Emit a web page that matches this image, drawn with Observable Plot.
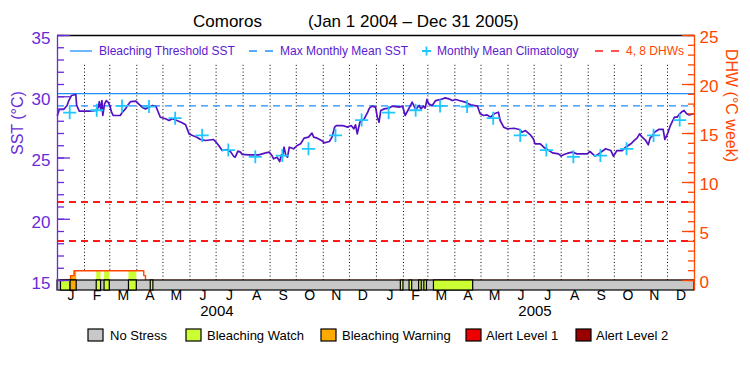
<!DOCTYPE html>
<html><head><meta charset="utf-8">
<script src="https://cdn.jsdelivr.net/npm/d3@7"></script>
<script src="https://cdn.jsdelivr.net/npm/@observablehq/plot@0.6"></script>
<style>
body{margin:0;background:#fff;}
#wrap{position:relative;width:750px;height:375px;overflow:hidden;background:#fff;}
#wrap svg{position:absolute;left:0;top:0;}
</style></head><body><div id="wrap"></div>
<script>
// ---------- data ----------
const titleText = "Comoros";
const periodText = "(Jan 1 2004 \u2013 Dec 31 2005)";
const monthLetters = ["J","F","M","A","M","J","J","A","S","O","N","D"];
const yearLabels = ["2004","2005"];
const sstTicks = [15,20,25,30,35];
const dhwTicks = [0,5,10,15,20,25];
const mmm = 29.25;
const bleachingThreshold = 30.25;
const dhwLevels = [4, 8];
// monthly mean climatology (Jan..Dec)
const climValues = [28.7, 28.9, 29.25, 29.2, 28.25, 26.85, 25.65, 25.1, 25.2, 25.75, 26.85, 28.1];
// SST: days since 2004-01-01 and values (deg C)
const sstDay = [0,2,7,11,13,16,21,22,25,38,44,47,48,50,51,52,54,56,58,60,62,64,72,74,78,81,84,90,93,97,101,105,109,113,118,124,128,132,137,143,147,151,155,160,164,170,179,182,185,189,195,199,202,204,207,210,212,220,231,239,243,246,248,252,255,257,258,260,262,264,266,271,275,279,283,288,292,294,298,303,306,312,315,318,320,327,333,337,340,342,344,347,352,356,358,361,365,367,369,371,375,380,384,392,396,399,403,407,411,415,417,420,422,424,426,430,434,440,445,449,453,457,461,468,474,482,485,489,493,497,501,506,508,512,516,524,530,533,537,543,546,548,554,558,564,568,575,578,581,587,591,596,608,611,614,617,621,629,635,638,642,648,652,658,662,665,668,671,675,678,680,683,685,690,695,697,700,703,708,711,714,717,719,722,725,730];
const sstValue = [28.5,28.96,28.96,29.29,29.69,30.1,30.18,29.29,28.82,28.82,28.88,29.15,29.61,28.88,29.69,28.47,29.42,29.69,29.56,29.29,28.74,28.47,28.47,28.69,29.01,29.34,29.61,29.64,29.42,29.15,29.01,29.15,29.29,29.2,28.33,28.2,28.06,28.2,28.06,27.87,27.71,26.97,26.84,26.7,26.51,26.43,26.51,26.29,26.02,25.61,25.69,25.48,25.15,25.07,25.56,25.48,25.29,25.26,25.26,25.42,25.48,25.21,24.93,25.07,24.71,25.26,25.07,25.88,25.21,25.07,25.88,25.75,26.02,26.16,26.62,26.7,27.03,26.7,26.62,26.43,26.24,26.35,26.7,27.52,27.65,27.65,27.52,27.65,27.38,27.71,26.97,27.92,28.2,28.74,29.07,29.23,29.15,28.33,27.92,28.88,29.01,29.07,29.23,29.15,29.23,28.47,29.01,29.56,28.96,29.29,29.01,29.23,29.07,29.78,29.42,29.29,29.69,29.78,29.91,29.83,29.69,29.78,29.69,29.56,29.34,29.23,28.61,28.47,28.52,28.33,28.61,28.74,28.06,27.52,27.38,27.43,27.33,27.11,27.24,26.86,26.57,26.16,26.16,25.88,25.61,25.42,25.34,25.15,25.29,25.42,25.48,25.34,25.34,25.53,25.34,25.15,25.34,25.75,25.61,25.15,25.61,25.61,25.88,26.16,26.43,26.62,26.97,26.7,26.43,26.07,26.62,26.84,27.11,27.33,27.33,26.51,26.97,27.6,28.33,28.33,28.61,28.8,28.88,28.61,28.52,28.61];
// Degree heating weeks (step values)
const dhwDate = ["2004-01-01","2004-01-16","2004-01-20","2004-04-09","2004-04-11","2006-01-01"];
const dhwValue = [0, 0.5, 1.0, 0.5, 0, 0];
// stress level periods (0 = no stress elsewhere)
const stressStart = ["2004-01-05","2004-01-16","2004-02-15","2004-02-24","2004-03-23","2004-04-17","2005-01-29","2005-02-08","2005-02-19","2005-02-25","2005-03-08"];
const stressEnd   = ["2004-01-16","2004-01-23","2004-02-20","2004-03-01","2004-04-01","2004-04-20","2005-02-01","2005-02-11","2005-02-22","2005-02-28","2005-04-22"];
const stressLevel = [1,2,1,1,1,1,1,1,1,1,1];
const stressNames = ["No Stress","Bleaching Watch","Bleaching Warning","Alert Level 1","Alert Level 2"];
const stressColors = ["#c8c8c8","#ccff33","#ffaa00","#ee0000","#990000"];

// ---------- styles ----------
const FONT = "'Liberation Sans', Arial, sans-serif";
const axisPurple = "#6a2ad8", linePurple = "#5312c2", legendPurple = "#5a1ad0";
const blue = "#1e90ff", cyan = "#1ec8ff", red = "#ff1a1a", orange = "#ff4500";

// ---------- derived tables ----------
const t0 = new Date("2004-01-01"), t1 = new Date("2006-01-01");
const base = Date.UTC(2004,0,1);
const sst = sstDay.map((d,i) => ({date: new Date(base + d*864e5), v: sstValue[i]}));
const clim = [2004,2005].flatMap(y => climValues.map((v,m) => ({date: new Date(Date.UTC(y,m,15)), v})));
const dhwToSst = d => 15 + d * 0.8; // right axis: 0..25 DHW mapped to 15..35
const dhw = dhwDate.map((d,i) => ({date: new Date(d), v: dhwValue[i]}));
const dhwSteps = dhw.slice(0,-1).map((d,i) => ({x1: d.date, x2: dhw[i+1].date, v: d.v}));
const stress = stressStart.map((s,i) => ({x1: new Date(s), x2: new Date(stressEnd[i]), level: stressLevel[i]}));
const fills = [];
stress.forEach(s => dhwSteps.forEach(d => {
  const a = Math.max(+s.x1, +d.x1), b = Math.min(+s.x2, +d.x2);
  if (a < b && d.v > 0) fills.push({x1: new Date(a), x2: new Date(b), v: d.v, level: s.level});
}));
const monthBounds = d3.utcMonth.range(new Date("2004-02-01"), t1);
const monthStarts = d3.utcMonth.range(t0, t1);
const monthMids = monthStarts.map((d,i) => ({date: new Date((+d + +d3.utcMonth.offset(d,1))/2), label: monthLetters[i % 12]}));
const yearMids = yearLabels.map(y => ({date: new Date(Date.UTC(+y,6,2)), label: y}));
const barBottom = 15 - 10/12.25;

const chart = Plot.plot({
  width: 750, height: 375,
  marginTop: 35, marginBottom: 85, marginLeft: 57, marginRight: 56,
  x: {type: "utc", domain: [t0, t1], axis: null},
  y: {domain: [barBottom, 35], axis: null},
  style: {fontFamily: FONT, background: "transparent"},
  marks: [
    Plot.ruleX(monthBounds, {x: d => d, y1: 15, y2: 32.75, stroke: "black", strokeDasharray: "1,2.4", strokeWidth: 1}),
    Plot.ruleY(dhwLevels, {y: d => dhwToSst(d), stroke: red, strokeDasharray: "7,5", strokeWidth: 2, shapeRendering: "crispEdges"}),
    Plot.areaY(dhw, {x: "date", y1: 15, y2: d => dhwToSst(d.v), curve: "step-after", fill: "white"}),
    Plot.rect(fills, {x1: "x1", x2: "x2", y1: 15, y2: d => dhwToSst(d.v), fill: d => stressColors[d.level]}),
    Plot.line(dhw, {x: "date", y: d => dhwToSst(d.v), curve: "step-after", stroke: orange, strokeWidth: 1.4}),
    Plot.ruleY([bleachingThreshold], {stroke: blue, strokeWidth: 1.3}),
    Plot.ruleY([mmm], {stroke: blue, strokeWidth: 1.3, strokeDasharray: "7,5"}),
    Plot.line(sst, {x: "date", y: "v", stroke: linePurple, strokeWidth: 1.7}),
    Plot.dot(clim, {x: "date", y: "v", symbol: "plus", r: 4.3, stroke: cyan, strokeWidth: 1.8}),
    Plot.rect([{x1: t0, x2: t1}], {x1: "x1", x2: "x2", y1: barBottom, y2: 15, fill: stressColors[0], stroke: "black", strokeWidth: 1.2}),
    Plot.rect(stress, {x1: "x1", x2: "x2", y1: barBottom, y2: 15, fill: d => stressColors[d.level], stroke: "black", strokeWidth: 1.2}),
    Plot.ruleY([35], {stroke: "black", strokeWidth: 1.3}),
    Plot.ruleX([t0], {stroke: axisPurple, strokeWidth: 1.3}),
    Plot.ruleX([t1], {stroke: orange, strokeWidth: 1.3}),
    Plot.axisY({anchor: "left", ticks: d3.range(15, 35.01, 1), tickSize: -7, fill: "none", stroke: axisPurple, strokeWidth: 1.3, label: null}),
    Plot.axisY({anchor: "left", ticks: sstTicks, tickSize: -13, fill: "none", stroke: axisPurple, strokeWidth: 1.3, label: null}),
    Plot.axisY({anchor: "right", ticks: d3.range(0, 25.01, 1).map(dhwToSst), tickSize: -7, fill: "none", stroke: orange, strokeWidth: 1.3, label: null}),
    Plot.axisY({anchor: "right", ticks: dhwTicks.map(dhwToSst), tickSize: -13, fill: "none", stroke: orange, strokeWidth: 1.3, label: null}),
    Plot.text(sstTicks, {y: d => d, text: d => String(d), frameAnchor: "left", dx: -7, dy: 3, textAnchor: "end", fill: axisPurple, fontSize: 17}),
    Plot.text(dhwTicks, {y: d => dhwToSst(d), text: d => String(d), frameAnchor: "right", dx: 5, dy: 2, textAnchor: "start", fill: orange, fontSize: 17}),
    Plot.text(["SST (\u00B0C)"], {frameAnchor: "left", dx: -40, dy: -8, rotate: -90, fill: axisPurple, fontSize: 16}),
    Plot.text(["DHW (\u00B0C week)"], {frameAnchor: "right", dx: 37, dy: -1, rotate: 90, fill: orange, fontSize: 16}),
    Plot.text(monthMids, {x: "date", text: "label", frameAnchor: "bottom", dy: 9, fill: "black", fontSize: 14}),
    Plot.text(yearMids, {x: "date", text: "label", frameAnchor: "bottom", dy: 25, fill: "black", fontSize: 15})
  ]
});
const wrap = document.getElementById("wrap");
wrap.appendChild(chart);

// ---------- title & legends overlay ----------
const ov = d3.select(wrap).append("svg").attr("width", 750).attr("height", 375)
  .style("pointer-events", "none").style("font-family", FONT);
ov.append("text").attr("x", 193).attr("y", 27).attr("font-size", 17).attr("fill", "black").text(titleText);
ov.append("text").attr("x", 308).attr("y", 27).attr("font-size", 17).attr("fill", "black").text(periodText);

const ly = 51;
ov.append("line").attr("x1", 70).attr("x2", 92).attr("y1", ly).attr("y2", ly).attr("stroke", blue).attr("stroke-width", 1.3);
ov.append("text").attr("x", 99).attr("y", ly + 4).attr("font-size", 12).attr("fill", legendPurple).text("Bleaching Threshold SST");
ov.append("line").attr("x1", 249).attr("x2", 273).attr("y1", ly).attr("y2", ly).attr("stroke", blue).attr("stroke-width", 1.3).attr("stroke-dasharray", "8,8");
ov.append("text").attr("x", 280).attr("y", ly + 4).attr("font-size", 12).attr("fill", legendPurple).text("Max Monthly Mean SST");
ov.append("path").attr("d", `M${422},${ly}h9M${426.5},${ly-4.5}v9`).attr("stroke", cyan).attr("stroke-width", 1.8);
ov.append("text").attr("x", 437).attr("y", ly + 4).attr("font-size", 12).attr("fill", legendPurple).text("Monthly Mean Climatology");
ov.append("line").attr("x1", 595).attr("x2", 619).attr("y1", ly).attr("y2", ly).attr("stroke", red).attr("stroke-width", 1.3).attr("stroke-dasharray", "8,8");
ov.append("text").attr("x", 626).attr("y", ly + 4).attr("font-size", 12).attr("fill", orange).text("4, 8 DHWs");

const boxX = [88, 186, 321, 466, 576];
const textX = [110, 207, 342, 486, 596];
stressNames.forEach((n, i) => {
  ov.append("rect").attr("x", boxX[i]).attr("y", 329).attr("width", 15).attr("height", 12)
    .attr("fill", stressColors[i]).attr("stroke", "black").attr("stroke-width", 1.2);
  ov.append("text").attr("x", textX[i]).attr("y", 340).attr("font-size", 13).attr("fill", "black").text(n);
});
</script></body></html>
